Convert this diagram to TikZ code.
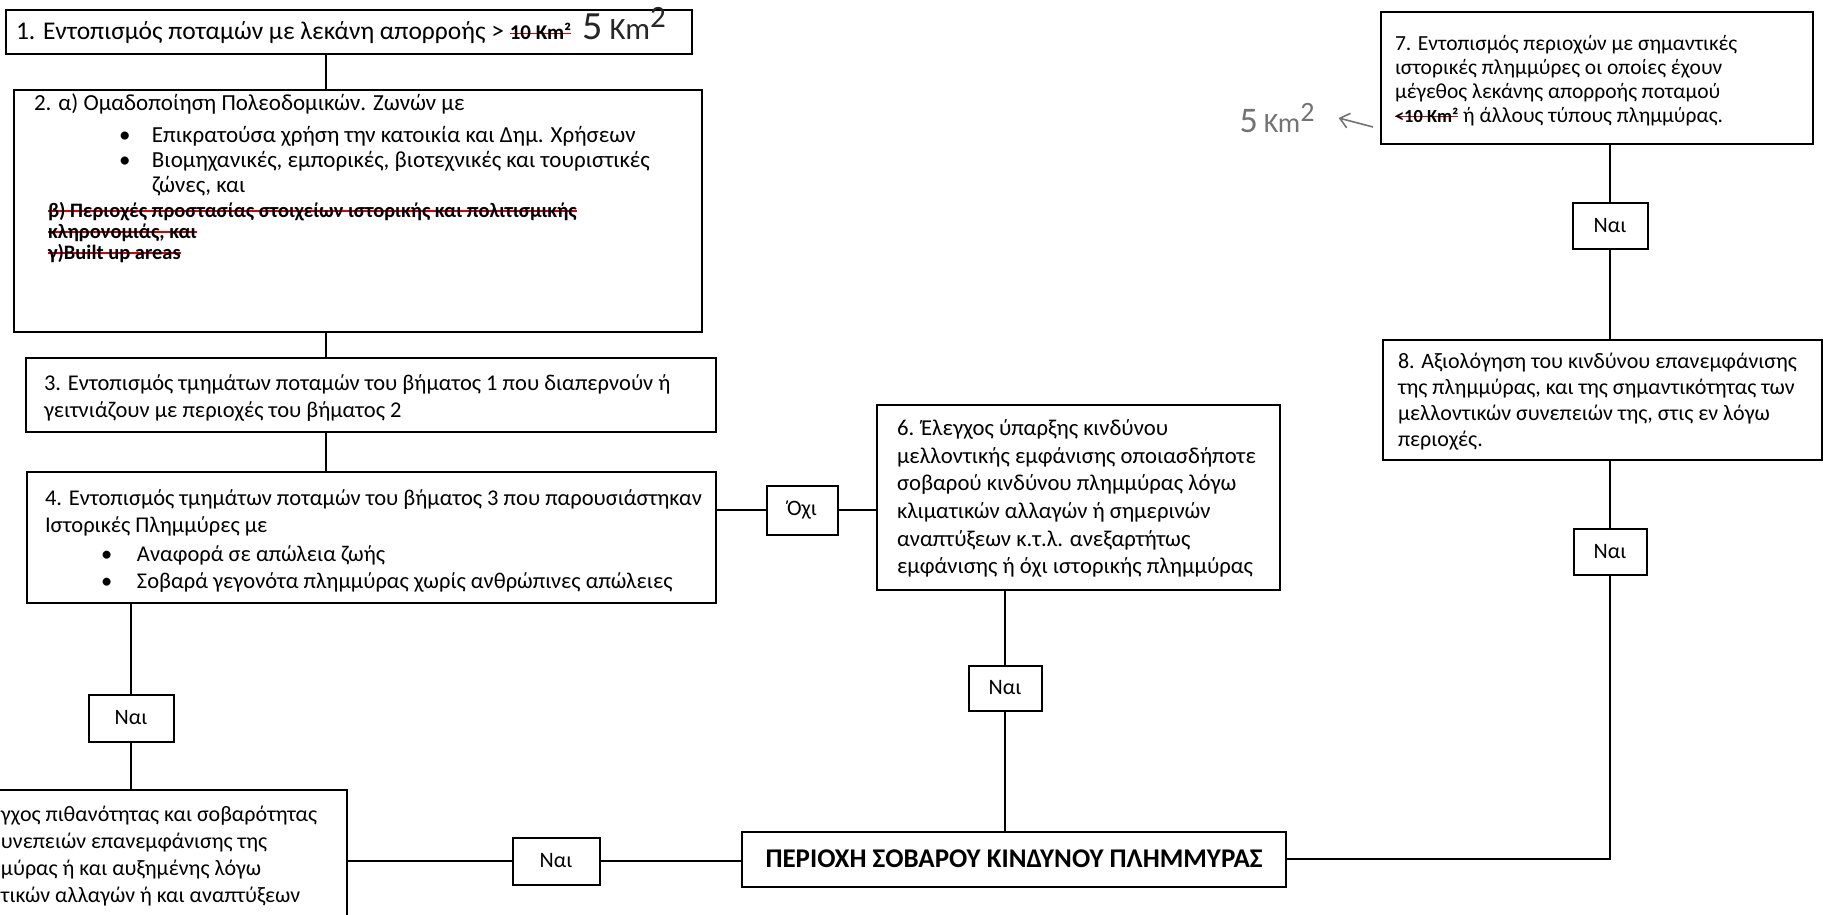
\documentclass[tikz,border=0pt]{standalone}
\usepackage{fontspec}
\setmainfont{Carlito}
\newfontfamily\hwfont{Carlito}
\usetikzlibrary{arrows.meta}
\newsavebox\strkbox
\newcommand\rstrike[1]{\leavevmode\sbox\strkbox{#1}\rlap{\textcolor{red!85!black}{\rule[0.28em]{\wd\strkbox}{1.5pt}}}\usebox\strkbox}
% box text: [baselineskip]{font size}{width}{height}{top gap}{left indent}{text}
\newcommand\bxt[7][27]{\parbox[c][#4][t]{#3}{\vspace*{#5}\raggedright\leftskip=#6\relax\fontsize{#2}{#1}\selectfont\strut #7}}
\newcommand\strk[2][19]{{\fontsize{#1}{20}\selectfont\bfseries\rstrike{#2}}}
% handwritten "5 Km2": {size of 5}{size of Km}{raise of 2}
\newcommand\hwkm[3]{{\hwfont\fontsize{#1}{#1}\selectfont 5\,{\fontsize{#2}{#2}\selectfont Km}\raisebox{#3}{\fontsize{#2}{#2}\selectfont 2}}}
\tikzset{
  stepbox/.style={draw=black, line width=2pt, inner sep=0pt, outer sep=0pt, anchor=north west, fill=white},
  ansbox/.style={draw=black, line width=2pt, inner sep=0pt, outer sep=0pt, fill=white, font=\fontsize{22}{26}\selectfont},
  link/.style={line width=2pt, draw=black},
  hwnote/.style={text=black!55, inner sep=0pt},
  hwarrow/.style={draw=black!55, line width=1.6pt, -{Straight Barb[length=9pt,width=15pt]}}
}
\begin{document}
\begin{tikzpicture}[x=1pt,y=-1pt]
\useasboundingbox (0,0) rectangle (1825,915);
\clip (0,0) rectangle (1825,915);
\fill[white] (0,0) rectangle (1825,915);

% left column
\node[stepbox] (b1) at (6,10) {\bxt[30]{25.5}{686pt}{44pt}{9pt}{10pt}{1. Εντοπισμός ποταμών με λεκάνη απορροής > \strk[21]{10 Km²}\ \ \smash{\textcolor{black!85}{\hwkm{40}{31}{12pt}}}}};

\node[stepbox] (b2) at (14,90) {\bxt[25]{23}{688pt}{242pt}{3pt}{20pt}{2. α) Ομαδοποίηση Πολεοδομικών. Ζωνών με\\[7pt]
\hspace*{85pt}\makebox[33pt][l]{•}Επικρατούσα χρήση την κατοικία και Δημ. Χρήσεων\\
\hspace*{85pt}\makebox[33pt][l]{•}Βιομηχανικές, εμπορικές, βιοτεχνικές και τουριστικές\\
\hspace*{118pt}ζώνες, και\\
\hspace*{14pt}\strk[20.5]{β) Περιοχές προστασίας στοιχείων ιστορικής και πολιτισμικής}\\[-4pt]
\hspace*{14pt}\strk[20.5]{κληρονομιάς, και}\\[-4pt]
\hspace*{14pt}\strk[20.5]{γ)Built up areas}}};

\node[stepbox] (b3) at (26,358) {\bxt{22.5}{690pt}{74pt}{13.7pt}{18pt}{3. Εντοπισμός τμημάτων ποταμών του βήματος 1 που διαπερνούν ή\\
γειτνιάζουν με περιοχές του βήματος 2}};

\node[stepbox] (b4) at (27,472) {\bxt{22.5}{689pt}{131pt}{14.7pt}{18pt}{4. Εντοπισμός τμημάτων ποταμών του βήματος 3 που παρουσιάστηκαν\\
Ιστορικές Πλημμύρες με\\[2pt]
\hspace*{56pt}\makebox[36pt][l]{•}Αναφορά σε απώλεια ζωής\\
\hspace*{56pt}\makebox[36pt][l]{•}Σοβαρά γεγονότα πλημμύρας χωρίς ανθρώπινες απώλειες}};

\node[ansbox, minimum width=85pt, minimum height=47pt] (naiL) at (131,718) {Ναι};

\node[stepbox, anchor=north east] (b5) at (347,790) {\bxt{22}{420pt}{200pt}{12.6pt}{74pt}{γχος πιθανότητας και σοβαρότητας\\
υνεπειών επανεμφάνισης της\\
μύρας ή και αυξημένης λόγω\\
τικών αλλαγών ή και αναπτύξεων}};

% middle
\node[ansbox, minimum width=71pt, minimum height=49pt] (no) at (802,510) {Όχι};

\node[stepbox] (b6) at (877,405) {\bxt[27.6]{22.7}{403pt}{185pt}{11.4pt}{20pt}{6. Έλεγχος ύπαρξης κινδύνου\\
μελλοντικής εμφάνισης οποιασδήποτε\\
σοβαρού κινδύνου πλημμύρας λόγω\\
κλιματικών αλλαγών ή σημερινών\\
αναπτύξεων κ.τ.λ. ανεξαρτήτως\\
εμφάνισης ή όχι ιστορικής πλημμύρας}};

\node[ansbox, minimum width=73pt, minimum height=45pt] (naiM) at (1005,688) {Ναι};

\node[stepbox, anchor=center, minimum width=544pt, minimum height=55pt, font=\fontsize{27}{30}\selectfont\bfseries] (bP) at (1014,859) {ΠΕΡΙΟΧΗ ΣΟΒΑΡΟΥ ΚΙΝΔΥΝΟΥ ΠΛΗΜΜΥΡΑΣ};

\node[ansbox, minimum width=87pt, minimum height=47pt] (naiB) at (556,861) {Ναι};

% right column
\node[stepbox] (b7) at (1381,12) {\bxt[24]{21.5}{432pt}{132pt}{21.6pt}{14pt}{7. Εντοπισμός περιοχών με σημαντικές\\
ιστορικές πλημμύρες οι οποίες έχουν\\
μέγεθος λεκάνης απορροής ποταμού\\
\strk[18.5]{<10 Km²} ή άλλους τύπους πλημμύρας.}};

\node[hwnote, inner xsep=24pt] (hw7) at (1277,118) {\hwkm{36}{28}{11pt}};
\coordinate (a7) at (1373,127);

\node[ansbox, minimum width=75pt, minimum height=46pt] (naiR1) at (1610,226) {Ναι};

\node[stepbox] (b8) at (1383,340) {\bxt[26]{22}{439pt}{120pt}{10.3pt}{15pt}{8. Αξιολόγηση του κινδύνου επανεμφάνισης\\
της πλημμύρας, και της σημαντικότητας των\\
μελλοντικών συνεπειών της, στις εν λόγω\\
περιοχές.}};

\node[ansbox, minimum width=73pt, minimum height=46pt] (naiR2) at (1610,552) {Ναι};

% connectors
\coordinate (colL) at (326,0);
\draw[link] (b1.south -| colL) -- (b2.north -| colL);
\draw[link] (b2.south -| colL) -- (b3.north -| colL);
\draw[link] (b3.south -| colL) -- (b4.north -| colL);
\draw[link] (b4.south -| naiL) -- (naiL);
\draw[link] (naiL) -- (b5.north -| naiL);
\draw[link] (b4.east |- no) -- (no);
\draw[link] (no) -- (b6.west |- no);
\draw[link] (b6.south -| naiM) -- (naiM);
\draw[link] (naiM) -- (bP.north -| naiM);
\draw[link] (b5.east |- naiB) -- (naiB);
\draw[link] (naiB) -- (bP.west |- naiB);
\draw[link] (b7.south -| naiR1) -- (naiR1);
\draw[link] (naiR1) -- (b8.north -| naiR1);
\draw[link] (b8.south -| naiR2) -- (naiR2);
\draw[link] (naiR2) |- (bP.east);
\draw[hwarrow] (a7) -- (hw7.east);
\end{tikzpicture}
\end{document}
